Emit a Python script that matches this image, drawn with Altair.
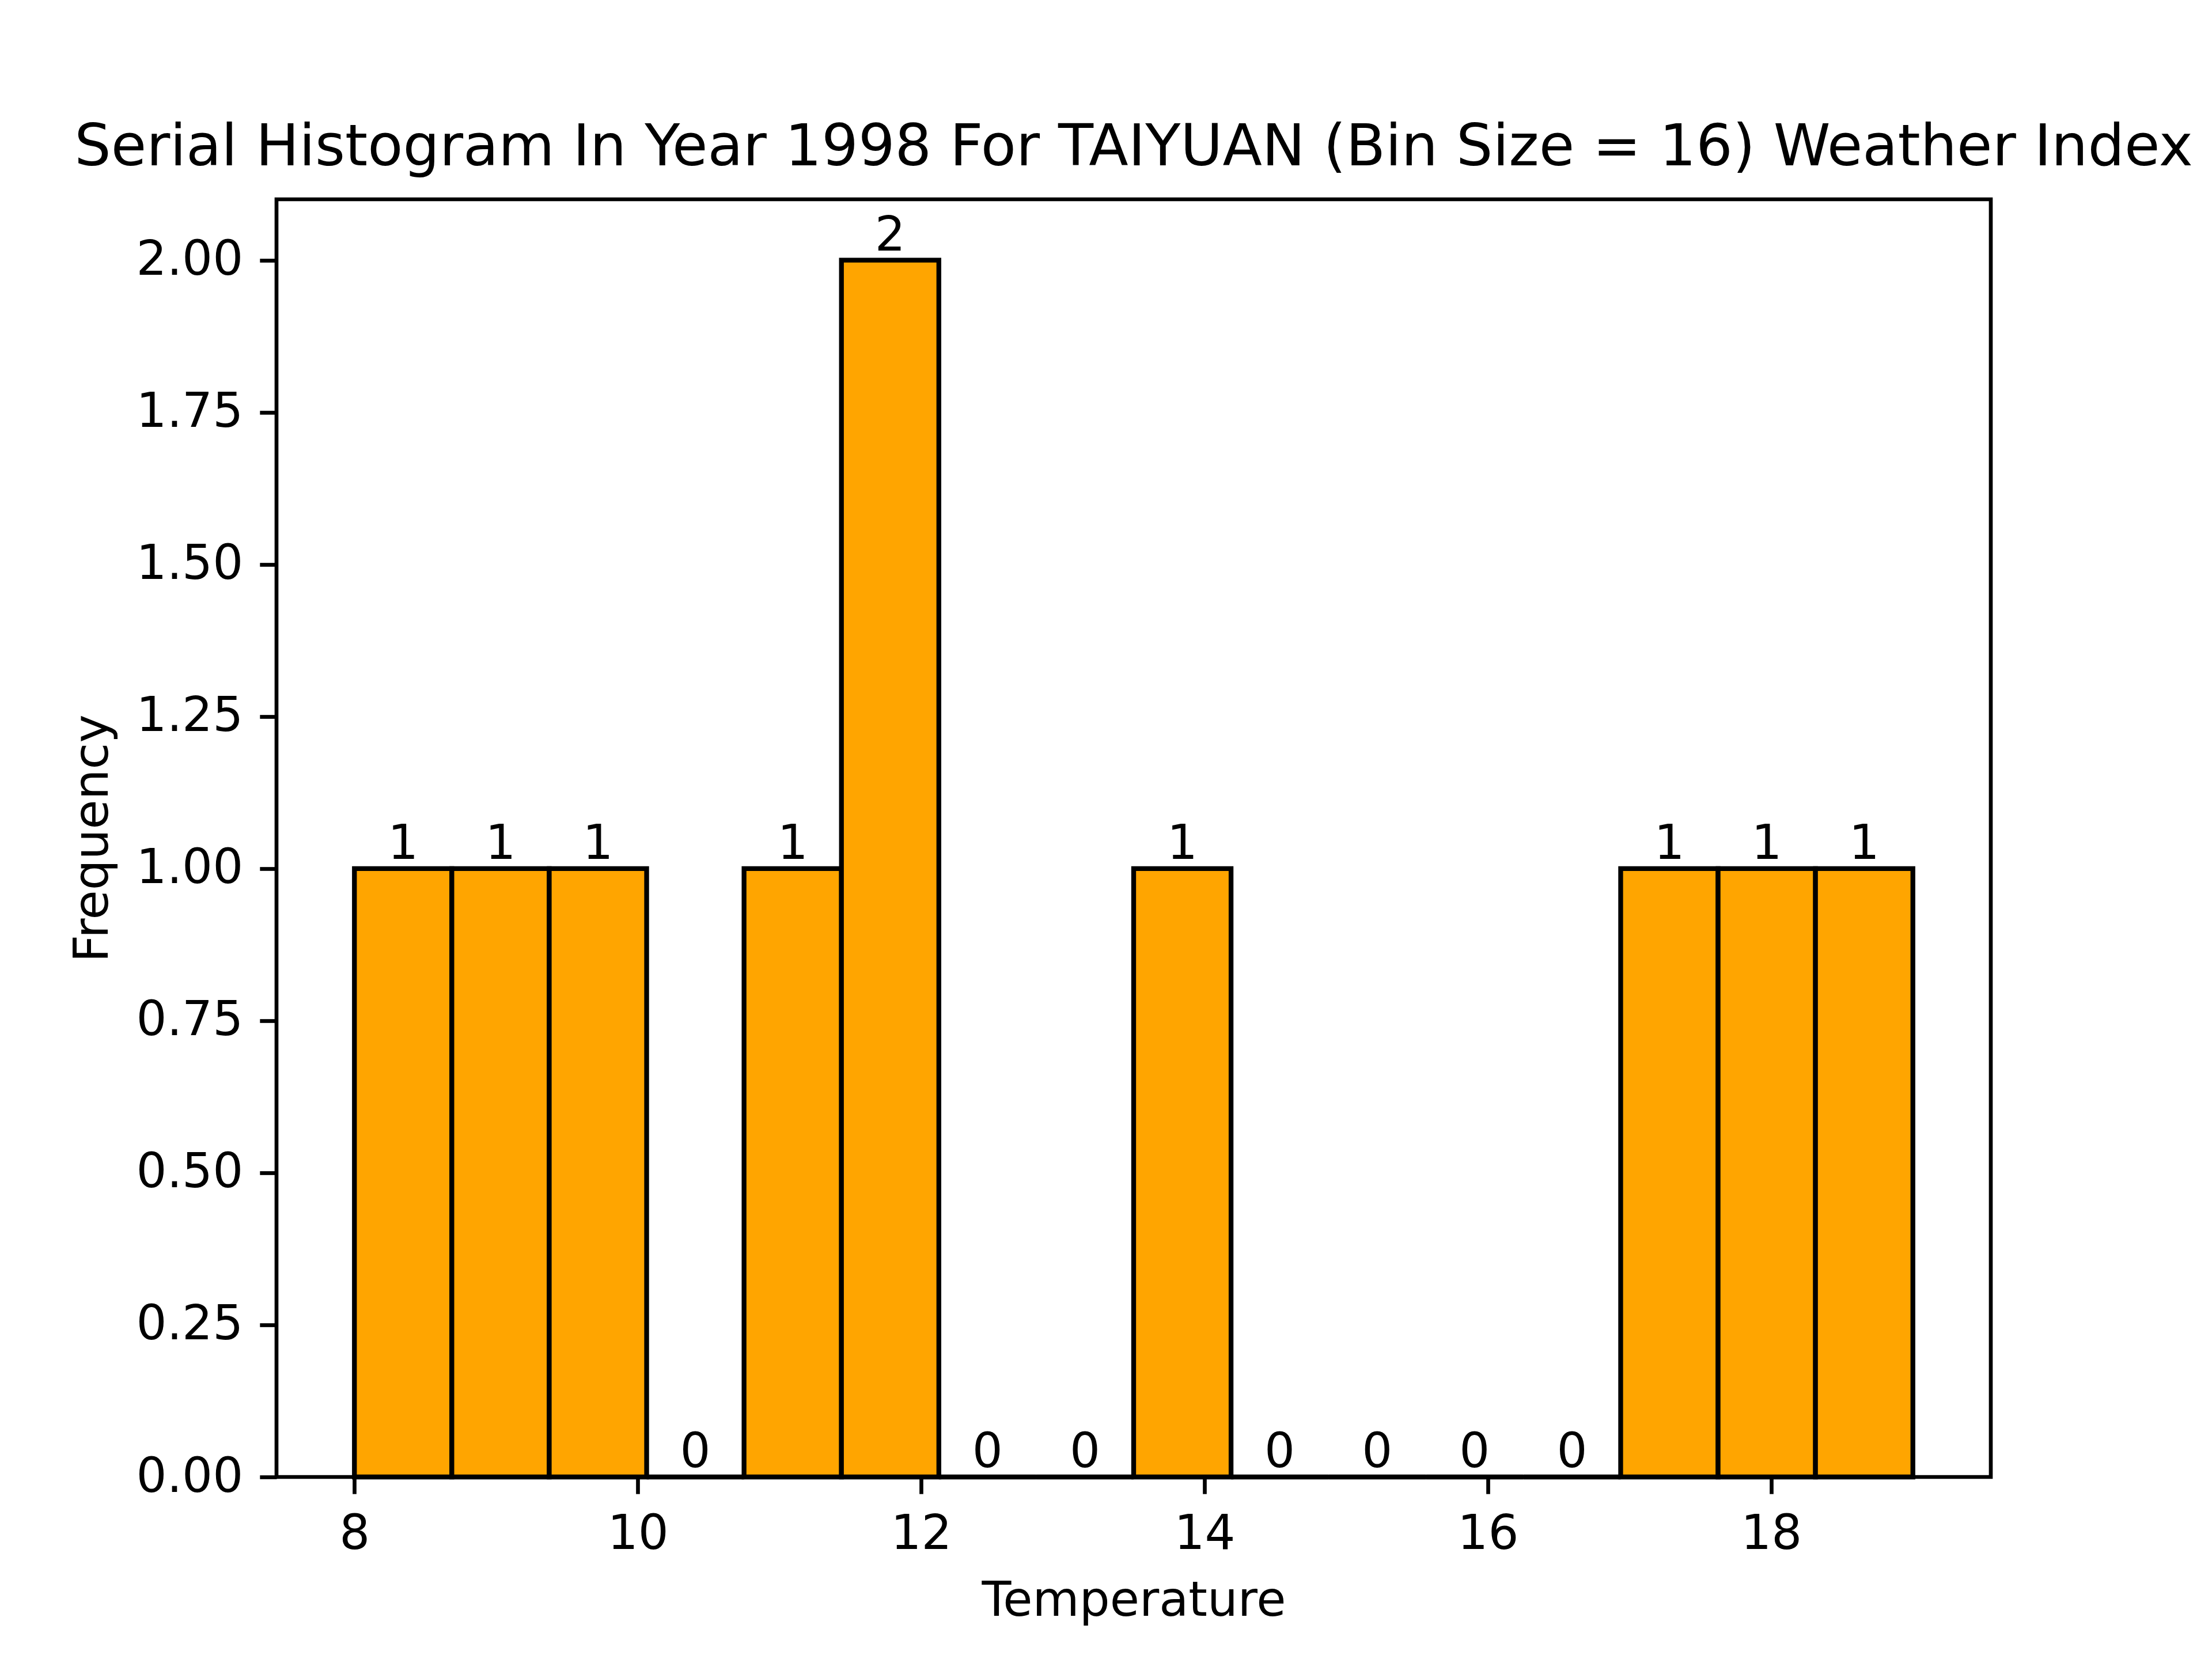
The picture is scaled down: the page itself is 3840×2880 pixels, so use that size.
import altair as alt
import pandas as pd

# histogram: 16 equal bins between 8 and 19
BIN_START = [8.0, 8.6875, 9.375, 10.0625, 10.75, 11.4375, 12.125, 12.8125,
             13.5, 14.1875, 14.875, 15.5625, 16.25, 16.9375, 17.625, 18.3125]
BIN_END = [8.6875, 9.375, 10.0625, 10.75, 11.4375, 12.125, 12.8125, 13.5,
           14.1875, 14.875, 15.5625, 16.25, 16.9375, 17.625, 18.3125, 19.0]
COUNTS = [1, 1, 1, 0, 1, 2, 0, 0, 1, 0, 0, 0, 0, 1, 1, 1]

X_TICKS = [8, 10, 12, 14, 16, 18]
Y_TICKS = [0, 0.25, 0.5, 0.75, 1.0, 1.25, 1.5, 1.75, 2.0]

FONT = "DejaVu Sans"
PT = 600 / 72  # pixels per point at 600 dpi
W, H = 2976, 2218

df = pd.DataFrame({
    "start": BIN_START,
    "end": BIN_END,
    "count": COUNTS,
})
df["mid"] = (df["start"] + df["end"]) / 2
df["label"] = df["count"].astype(str)

x_scale = alt.Scale(domain=[7.45, 19.55], nice=False, zero=False)
y_scale = alt.Scale(domain=[0, 2.1], nice=False)

axis_common = dict(
    domain=False,
    grid=False,
    tickColor="black",
    tickSize=3.5 * PT,
    tickWidth=0.8 * PT,
    labelFont=FONT,
    labelFontSize=10 * PT,
    labelColor="black",
    labelPadding=3.5 * PT,
    labelLimit=0,
    labelOverlap=False,
    titleFont=FONT,
    titleFontSize=10 * PT,
    titleFontWeight="normal",
    titleColor="black",
    titlePadding=4 * PT,
)

bars = alt.Chart(df).mark_bar(
    color="#FFA500",
    stroke="black",
    strokeWidth=1.0 * PT,
).encode(
    x=alt.X("start:Q", scale=x_scale,
            axis=alt.Axis(values=X_TICKS, format="d", title="Temperature", **axis_common)),
    x2="end:Q",
    y=alt.Y("count:Q", scale=y_scale,
            axis=alt.Axis(values=Y_TICKS, format=".2f", title="Frequency",
                          titleX=-277, titleY=H / 2, titleAngle=270,
                          titleBaseline="bottom", titleAlign="center",
                          **axis_common)),
    y2=alt.datum(0),
)

labels = alt.Chart(df).mark_text(
    baseline="bottom",
    align="center",
    font=FONT,
    fontSize=10 * PT,
    color="black",
).encode(
    x=alt.X("mid:Q", scale=x_scale),
    y=alt.Y("count:Q", scale=y_scale),
    text="label:N",
)

chart = alt.layer(bars, labels).properties(
    width=W,
    height=H,
    background="white",
    title=alt.TitleParams(
        "Serial Histogram In Year 1998 For TAIYUAN (Bin Size = 16) Weather Index",
        font=FONT,
        fontSize=12 * PT,
        fontWeight="normal",
        color="black",
        anchor="middle",
        baseline="alphabetic",
        offset=6 * PT,
        dy=91,
    ),
    autosize=alt.AutoSizeParams(type="none"),
    padding={"left": 472, "top": 338, "right": 376, "bottom": 309},
).configure_view(
    stroke="black",
    strokeWidth=0.8 * PT,
)

chart.save("out.html", embed_options={"renderer": "svg", "actions": False})
